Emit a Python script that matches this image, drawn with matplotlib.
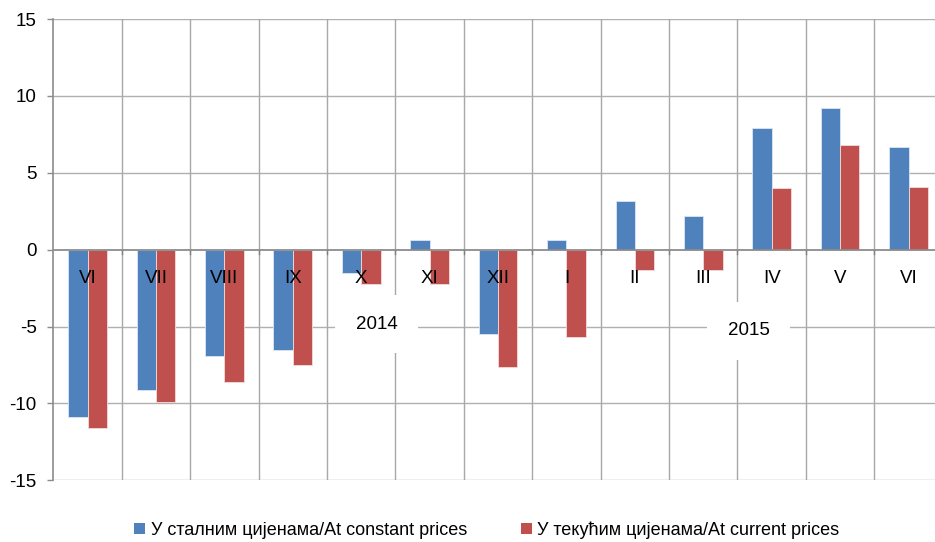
import matplotlib
matplotlib.use("Agg")
import matplotlib.pyplot as plt
import numpy as np
from matplotlib.patches import Patch

plt.rcParams['font.family'] = ['Liberation Sans Narrow', 'Liberation Sans', 'DejaVu Sans']

months = ["VI", "VII", "VIII", "IX", "X", "XI", "XII", "I", "II", "III", "IV", "V", "VI"]
constant_prices = [-10.9, -9.1, -6.9, -6.5, -1.5, 0.6, -5.5, 0.6, 3.2, 2.2, 7.9, 9.2, 6.7]
current_prices = [-11.6, -9.9, -8.6, -7.5, -2.2, -2.2, -7.6, -5.7, -1.3, -1.3, 4.0, 6.8, 4.1]
years = ["2014", "2015"]
year_pos = [4.23, 9.66]
year_y = [-4.85, -5.27]
labels = ["У сталним цијенама/At constant prices", "У текућим цијенама/At current prices"]
colors = ["#4F81BD", "#C0504D"]

fig = plt.figure(figsize=(9.35, 5.42), dpi=100)
ax = fig.add_axes([0.057, 0.1138, 0.9513, 0.851])

x = np.arange(len(months))
w = 0.283
ax.bar(x - w/2, constant_prices, w, color=colors[0], edgecolor='#dce6f2', linewidth=0.6, zorder=3)
ax.bar(x + w/2, current_prices, w, color=colors[1], edgecolor='#f2dcdb', linewidth=0.6, zorder=3)

ax.set_xlim(-0.5, len(months) - 0.5)
ax.set_ylim(-15, 15)
ax.set_yticks([-15, -10, -5, 0, 5, 10, 15])
ax.set_yticklabels(["-15", "-10", "-5", "0", "5", "10", "15"], fontsize=13.5)

# horizontal grid
for yv in [-15, -10, -5, 5, 10, 15]:
    ax.axhline(yv, color='#b0b0b0', lw=1.0, zorder=1)
# vertical grid at category boundaries
for b in np.arange(0.5, len(months) - 0.5, 1):
    ax.plot([b, b], [-15, 15], color='#a8a8a8', lw=1.0, zorder=1)
    ax.plot([b, b], [0, -0.3], color='#808080', lw=1.0, zorder=4)
ax.axhline(0, color='#8c8c8c', lw=1.3, zorder=4)

for s in ['top', 'right', 'bottom']:
    ax.spines[s].set_visible(False)
ax.spines['left'].set_color('#8c8c8c')
ax.spines['left'].set_linewidth(1.2)
ax.tick_params(axis='y', length=4, width=1, color='#8c8c8c', pad=8)
ax.tick_params(axis='x', length=0, labelbottom=False)

for i, m in enumerate(months):
    ax.text(x[i], -1.85, m, ha='center', va='center', fontsize=13.5, zorder=5)

for yr, xp, yp in zip(years, year_pos, year_y):
    ax.text(xp, yp, yr, ha='center', va='center', fontsize=13.5, zorder=5,
            bbox=dict(boxstyle='square,pad=1.1', facecolor='white', edgecolor='none'))

handles = [Patch(facecolor=c, edgecolor='none') for c in colors]
fig.legend(handles, labels, loc='center', bbox_to_anchor=(487/935, 1 - 530/542), ncol=2,
           frameon=False, fontsize=13, handlelength=0.6, handleheight=0.6,
           handletextpad=0.3, columnspacing=3.0)

fig.savefig("out.png", dpi=100)
